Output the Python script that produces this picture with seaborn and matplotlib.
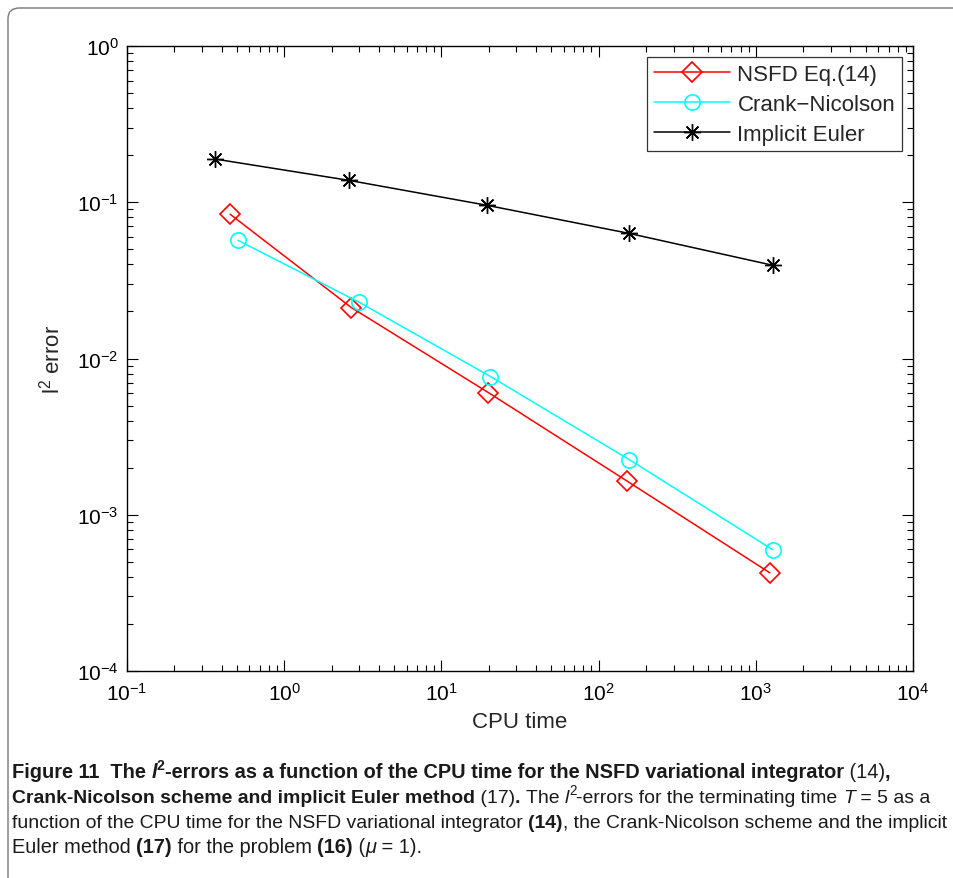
import matplotlib
matplotlib.use("Agg")
import matplotlib.pyplot as plt
from matplotlib.patches import FancyBboxPatch
import seaborn as sns
import pandas as pd

# CPU time (s) and l2-error for each integrator
nsfd_time = [0.453, 2.67, 19.9, 150.7, 1228.0]
nsfd_err = [0.0838, 0.0212, 0.00605, 0.00165, 0.000425]
cn_time = [0.509, 3.0, 20.5, 157.0, 1283.0]
cn_err = [0.057, 0.0229, 0.00767, 0.00225, 0.000597]
ie_time = [0.364, 2.59, 19.4, 155.0, 1283.0]
ie_err = [0.189, 0.138, 0.0957, 0.0633, 0.0395]

series_names = ["NSFD Eq.(14)", "Crank\u2212Nicolson", "Implicit Euler"]

sns.set_theme(style="white")
plt.rcParams["font.family"] = ["Liberation Sans", "DejaVu Sans"]

W, H = 954, 879
fig = plt.figure(figsize=(W / 100, H / 100), dpi=100)
ax = fig.add_axes([127 / W, 1 - 672 / H, (913 - 127) / W, (672 - 47) / H])

styles = [
    dict(color="red", marker="D", markersize=10, mfc="none", mew=1.2),
    dict(color="cyan", marker="o", markersize=11, mfc="none", mew=1.2),
    dict(color="black", marker=(8, 2, 0), markersize=12, mfc="black", mew=1.0),
]
data = [(nsfd_time, nsfd_err), (cn_time, cn_err), (ie_time, ie_err)]
for name, (t, e), st in zip(series_names, data, styles):
    df = pd.DataFrame({"t": t, "e": e})
    sns.lineplot(data=df, x="t", y="e", ax=ax, label=name, linewidth=1.1,
                 color=st["color"], marker=st["marker"], markersize=st["markersize"],
                 markeredgecolor=st["color"], markerfacecolor=st["mfc"],
                 markeredgewidth=st["mew"])

ax.set_xscale("log")
ax.set_yscale("log")
ax.set_xlim(1e-1, 1e4)
ax.set_ylim(1e-4, 1e0)
ax.set_xlabel("CPU time", fontsize=16, labelpad=5)
ax.set_ylabel(r"$\mathregular{l^2}$ error", fontsize=16, labelpad=9)

for s in ax.spines.values():
    s.set_color("black")
    s.set_linewidth(1.0)
ax.tick_params(which="both", direction="in", top=True, right=True,
               bottom=True, left=True, colors="black", labelsize=15)
ax.tick_params(which="major", length=8, width=0.8)
ax.tick_params(which="minor", length=4, width=0.8)
ax.tick_params(axis="x", pad=8)
ax.tick_params(axis="y", pad=6)

leg = ax.legend(loc="upper right", fontsize=16, frameon=True, fancybox=False,
                edgecolor="black", handlelength=3.4, borderpad=0.3,
                labelspacing=0.4, handletextpad=0.35, borderaxespad=0.5)
leg.get_frame().set_linewidth(0.9)

# rounded frame around the figure and caption (runs off the right and bottom)
fig.patches.append(FancyBboxPatch((8 / W, -0.05), 1.1, 1 - 9 / H + 0.05,
                                  boxstyle="round,pad=0,rounding_size=0.012",
                                  transform=fig.transFigure, fill=False,
                                  edgecolor="#777777", linewidth=1.0))

# caption, written piece by piece so bold/regular/italic parts can mix
cap_font = ["Liberation Sans Narrow", "Liberation Sans", "DejaVu Sans"]
cap_size = 14.4
lines = [
    [("Figure 11  The ", "bold", "normal", 0), ("l", "bold", "italic", 0),
     ("2", "bold", "normal", 1), ("-errors as a function of the CPU time for the NSFD variational integrator", "bold", "normal", 0),
     (" (14)", "normal", "normal", 0), (",", "bold", "normal", 0)],
    [("Crank-Nicolson scheme and implicit Euler method", "bold", "normal", 0),
     (" (17)", "normal", "normal", 0), (". ", "bold", "normal", 0),
     ("The ", "normal", "normal", 0), ("l", "normal", "italic", 0), ("2", "normal", "normal", 1),
     ("-errors for the terminating time ", "normal", "normal", 0), ("T", "normal", "italic", 0),
     (" = 5 as a", "normal", "normal", 0)],
    [("function of the CPU time for the NSFD variational integrator ", "normal", "normal", 0),
     ("(14)", "bold", "normal", 0),
     (", the Crank-Nicolson scheme and the implicit", "normal", "normal", 0)],
    [("Euler method ", "normal", "normal", 0), ("(17)", "bold", "normal", 0),
     (" for the problem ", "normal", "normal", 0), ("(16)", "bold", "normal", 0),
     (" (", "normal", "normal", 0), ("\u03bc", "normal", "italic", 0), (" = 1).", "normal", "normal", 0)],
]
line_y = [778, 803, 828, 853]
line_end = [897, 926, 944, 422]
x0 = 12
renderer = fig.canvas.get_renderer()


def place_line(pieces, yb, size0):
    x = x0
    made = []
    for txt, wt, stl, sup in pieces:
        size = size0 * (0.7 if sup else 1.0)
        yy = yb - (size0 * 0.55 if sup else 0)
        t = fig.text(x / W, 1 - yy / H, txt, fontsize=size, fontweight=wt,
                     fontstyle=stl, family=cap_font, va="baseline", ha="left",
                     color="#1a1a1a")
        x += t.get_window_extent(renderer=renderer).width
        made.append(t)
    return made, x


for pieces, yb, xe in zip(lines, line_y, line_end):
    made, x = place_line(pieces, yb, cap_size)
    if x > xe + 2:
        for t in made:
            t.remove()
        place_line(pieces, yb, cap_size * (xe - x0) / (x - x0))

fig.savefig("out.png", dpi=100, facecolor="white")
